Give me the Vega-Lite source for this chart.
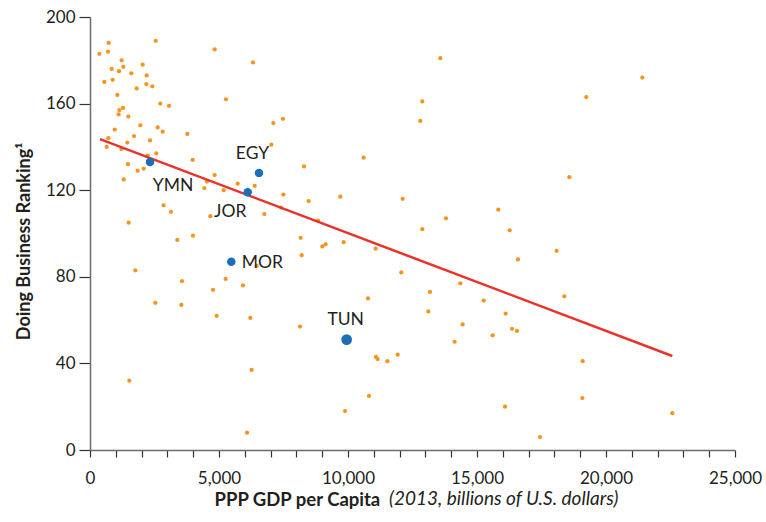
{
  "$schema": "https://vega.github.io/schema/vega-lite/v6.json",
  "width": 645,
  "height": 433,
  "autosize": {"type": "none"},
  "padding": {"left": 90, "top": 17, "right": 31, "bottom": 72},
  "background": "white",
  "config": {
    "view": {"stroke": null},
    "font": "Lato",
    "axis": {"labelFont": "Lato", "titleFont": "Lato", "grid": false}
  },
  "title": {
    "text": "(2013, billions of U.S. dollars)",
    "orient": "bottom",
    "anchor": "start",
    "frame": "group",
    "dx": 299,
    "offset": -4,
    "baseline": "alphabetic",
    "font": "Lato",
    "fontSize": 19,
    "fontStyle": "italic",
    "fontWeight": "normal",
    "color": "#231f20"
  },
  "datasets": {
    "others": [
      {"gdp": 362, "rank": 183}, {"gdp": 724, "rank": 188}, {"gdp": 698, "rank": 184}, {"gdp": 2546, "rank": 189},
      {"gdp": 4832, "rank": 185}, {"gdp": 1227, "rank": 180}, {"gdp": 840, "rank": 176}, {"gdp": 1124, "rank": 175},
      {"gdp": 1292, "rank": 177}, {"gdp": 2041, "rank": 178}, {"gdp": 1602, "rank": 174}, {"gdp": 6318, "rank": 179},
      {"gdp": 556, "rank": 170}, {"gdp": 879, "rank": 171}, {"gdp": 2196, "rank": 173}, {"gdp": 2183, "rank": 169},
      {"gdp": 2416, "rank": 168}, {"gdp": 1809, "rank": 167}, {"gdp": 1060, "rank": 164}, {"gdp": 5271, "rank": 162},
      {"gdp": 2726, "rank": 160}, {"gdp": 3062, "rank": 159}, {"gdp": 1279, "rank": 158}, {"gdp": 1137, "rank": 157},
      {"gdp": 1111, "rank": 155}, {"gdp": 1486, "rank": 154}, {"gdp": 956, "rank": 148}, {"gdp": 1951, "rank": 150},
      {"gdp": 2623, "rank": 149}, {"gdp": 2817, "rank": 147}, {"gdp": 1705, "rank": 145}, {"gdp": 3773, "rank": 146},
      {"gdp": 711, "rank": 144}, {"gdp": 646, "rank": 140}, {"gdp": 1447, "rank": 142}, {"gdp": 2326, "rank": 143},
      {"gdp": 1215, "rank": 139}, {"gdp": 2571, "rank": 137}, {"gdp": 2235, "rank": 136}, {"gdp": 1473, "rank": 132},
      {"gdp": 1848, "rank": 129}, {"gdp": 2080, "rank": 130}, {"gdp": 1305, "rank": 125}, {"gdp": 3979, "rank": 134},
      {"gdp": 7106, "rank": 151}, {"gdp": 7481, "rank": 153}, {"gdp": 7028, "rank": 141}, {"gdp": 8295, "rank": 131},
      {"gdp": 4832, "rank": 127}, {"gdp": 4535, "rank": 124}, {"gdp": 4432, "rank": 121}, {"gdp": 5182, "rank": 120},
      {"gdp": 5724, "rank": 123}, {"gdp": 6383, "rank": 122}, {"gdp": 7494, "rank": 118}, {"gdp": 8476, "rank": 115},
      {"gdp": 7403, "rank": 112}, {"gdp": 6757, "rank": 109}, {"gdp": 8837, "rank": 106}, {"gdp": 2855, "rank": 113},
      {"gdp": 3140, "rank": 110}, {"gdp": 4664, "rank": 108}, {"gdp": 1499, "rank": 105},
      {"gdp": 3385, "rank": 97}, {"gdp": 3992, "rank": 99}, {"gdp": 1757, "rank": 83}, {"gdp": 3566, "rank": 78},
      {"gdp": 2532, "rank": 68}, {"gdp": 3540, "rank": 67}, {"gdp": 4767, "rank": 74}, {"gdp": 5258, "rank": 79},
      {"gdp": 5930, "rank": 76}, {"gdp": 6460, "rank": 85}, {"gdp": 4909, "rank": 62}, {"gdp": 6214, "rank": 61},
      {"gdp": 8140, "rank": 57}, {"gdp": 8165, "rank": 98}, {"gdp": 8204, "rank": 90}, {"gdp": 9005, "rank": 94},
      {"gdp": 9134, "rank": 95}, {"gdp": 1525, "rank": 32}, {"gdp": 6266, "rank": 37}, {"gdp": 6085, "rank": 8},
      {"gdp": 13578, "rank": 181}, {"gdp": 12880, "rank": 161}, {"gdp": 12803, "rank": 152}, {"gdp": 10607, "rank": 135},
      {"gdp": 9702, "rank": 117}, {"gdp": 12119, "rank": 116}, {"gdp": 15826, "rank": 111}, {"gdp": 13798, "rank": 107},
      {"gdp": 12880, "rank": 102}, {"gdp": 16267, "rank": 101.5},
      {"gdp": 9832, "rank": 96}, {"gdp": 11072, "rank": 93}, {"gdp": 16589, "rank": 88}, {"gdp": 12067, "rank": 82},
      {"gdp": 14353, "rank": 77}, {"gdp": 10775, "rank": 70}, {"gdp": 13178, "rank": 73}, {"gdp": 15258, "rank": 69},
      {"gdp": 13114, "rank": 64}, {"gdp": 16111, "rank": 63}, {"gdp": 14442, "rank": 58}, {"gdp": 16357, "rank": 56},
      {"gdp": 16550, "rank": 55}, {"gdp": 15607, "rank": 53}, {"gdp": 14132, "rank": 50}, {"gdp": 11085, "rank": 43},
      {"gdp": 11150, "rank": 42}, {"gdp": 11525, "rank": 41}, {"gdp": 11925, "rank": 44}, {"gdp": 10814, "rank": 25},
      {"gdp": 9884, "rank": 18}, {"gdp": 16085, "rank": 20}, {"gdp": 17442, "rank": 6},
      {"gdp": 21408, "rank": 172}, {"gdp": 19236, "rank": 163}, {"gdp": 18579, "rank": 126}, {"gdp": 18086, "rank": 92},
      {"gdp": 18385, "rank": 71}, {"gdp": 19095, "rank": 41}, {"gdp": 19081, "rank": 24}, {"gdp": 22570, "rank": 17}
    ],
    "focus": [
      {"country": "YMN", "gdp": 2326, "rank": 133},
      {"country": "EGY", "gdp": 6550, "rank": 128},
      {"country": "JOR", "gdp": 6112, "rank": 119},
      {"country": "MOR", "gdp": 5478, "rank": 87},
      {"country": "TUN", "gdp": 9948, "rank": 51}
    ],
    "fit": [
      {"gdp": 388, "rank": 143.6},
      {"gdp": 22570, "rank": 43.4}
    ]
  },
  "encoding": {
    "x": {
      "field": "gdp", "type": "quantitative",
      "scale": {"domain": [0, 25000], "nice": false, "zero": true},
      "axis": {
        "title": "PPP GDP per Capita",
        "titleFontWeight": "bold", "titleFontSize": 18.5, "titleColor": "#231f20",
        "titleAnchor": "start", "titleAlign": "left", "titleX": 124, "titleY": 55, "titleBaseline": "alphabetic",
        "values": [0,1000,2000,3000,4000,5000,6000,7000,8000,9000,10000,11000,12000,13000,14000,15000,16000,17000,18000,19000,20000,21000,22000,23000,24000,25000],
        "labelExpr": "datum.value % 5000 === 0 ? format(datum.value, ',') : ''",
        "labelFontSize": 17, "labelColor": "#231f20", "labelPadding": 13,
        "tickSize": 7, "tickColor": "#333333", "tickWidth": 1.2,
        "domainColor": "#6b6b6b", "domainWidth": 1.5,
        "labelFlush": false, "labelOverlap": false
      }
    },
    "y": {
      "field": "rank", "type": "quantitative",
      "scale": {"domain": [0, 200], "nice": false},
      "axis": {
        "title": "Doing Business Ranking¹",
        "titleFontWeight": "bold", "titleFontSize": 18, "titleColor": "#231f20",
        "titleX": -66, "titleY": 224, "titleBaseline": "middle", "titleAngle": -90,
        "values": [0, 40, 80, 120, 160, 200],
        "labelFontSize": 17, "labelColor": "#231f20", "labelPadding": 4,
        "tickSize": 11, "tickColor": "#333333", "tickWidth": 1.2,
        "domainColor": "#6b6b6b", "domainWidth": 1.5
      }
    }
  },
  "layer": [
    {
      "data": {"name": "others"},
      "mark": {"type": "circle", "size": 18, "color": "#F7941D", "opacity": 1}
    },
    {
      "data": {"name": "fit"},
      "mark": {"type": "line", "color": "#E8332A", "strokeWidth": 2.5}
    },
    {
      "data": {"name": "focus"},
      "mark": {"type": "circle", "color": "#1B6FB9", "opacity": 1},
      "encoding": {
        "size": {"condition": {"test": "datum.country === 'TUN'", "value": 115}, "value": 72}
      }
    },
    {
      "data": {"name": "focus"},
      "transform": [{"filter": "datum.country === 'EGY'"}],
      "mark": {"type": "text", "fontSize": 17.5, "color": "#231f20", "dx": -6.5, "dy": -19, "align": "center", "baseline": "middle"},
      "encoding": {"text": {"field": "country"}}
    },
    {
      "data": {"name": "focus"},
      "transform": [{"filter": "datum.country === 'TUN'"}],
      "mark": {"type": "text", "fontSize": 17.5, "color": "#231f20", "dx": -1, "dy": -20, "align": "center", "baseline": "middle"},
      "encoding": {"text": {"field": "country"}}
    },
    {
      "data": {"name": "focus"},
      "transform": [{"filter": "datum.country === 'YMN'"}],
      "mark": {"type": "text", "fontSize": 17.5, "color": "#231f20", "dx": 23, "dy": 24, "align": "center", "baseline": "middle"},
      "encoding": {"text": {"field": "country"}}
    },
    {
      "data": {"name": "focus"},
      "transform": [{"filter": "datum.country === 'JOR'"}],
      "mark": {"type": "text", "fontSize": 17.5, "color": "#231f20", "dx": -17.5, "dy": 19.5, "align": "center", "baseline": "middle"},
      "encoding": {"text": {"field": "country"}}
    },
    {
      "data": {"name": "focus"},
      "transform": [{"filter": "datum.country === 'MOR'"}],
      "mark": {"type": "text", "fontSize": 17.5, "color": "#231f20", "dx": 10.5, "dy": 1.5, "align": "left", "baseline": "middle"},
      "encoding": {"text": {"field": "country"}}
    }
  ]
}
